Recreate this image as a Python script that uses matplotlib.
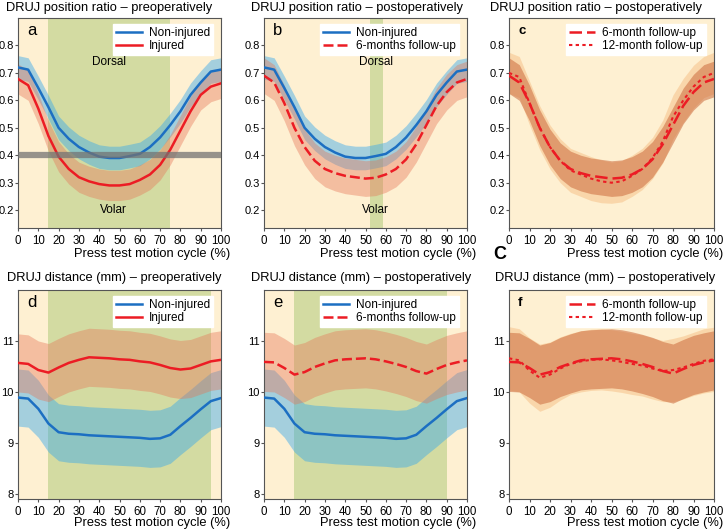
import matplotlib
matplotlib.use("Agg")
import matplotlib.pyplot as plt
from matplotlib.lines import Line2D
import numpy as np

plt.rcParams['font.family'] = ['Liberation Sans', 'DejaVu Sans']

x = [0, 5, 10, 15, 20, 25, 30, 35, 40, 45, 50, 55, 60, 65, 70, 75, 80, 85, 90, 95, 100]

# Position ratio
ratio_noninjured = [0.72, 0.712, 0.645, 0.575, 0.50, 0.46, 0.43, 0.41, 0.395, 0.39, 0.39, 0.397, 0.405, 0.43, 0.465, 0.51, 0.56, 0.62, 0.665, 0.705, 0.712]
ratio_noninjured_sd = [0.043] * 21
ratio_injured = [0.678, 0.655, 0.57, 0.47, 0.395, 0.35, 0.32, 0.305, 0.295, 0.29, 0.29, 0.295, 0.31, 0.33, 0.365, 0.42, 0.49, 0.56, 0.62, 0.65, 0.662]
ratio_injured_sd = [0.055] * 21
ratio_6m = [0.69, 0.665, 0.59, 0.50, 0.43, 0.38, 0.35, 0.335, 0.325, 0.32, 0.315, 0.318, 0.33, 0.35, 0.385, 0.44, 0.51, 0.58, 0.63, 0.665, 0.678]
ratio_6m_sd = [0.065] * 21
ratio_12m = [0.70, 0.685, 0.59, 0.50, 0.43, 0.38, 0.345, 0.33, 0.315, 0.305, 0.30, 0.305, 0.325, 0.35, 0.39, 0.45, 0.54, 0.60, 0.65, 0.685, 0.70]
ratio_12m_sd = [0.075, 0.075, 0.08, 0.08, 0.08, 0.08, 0.08, 0.08, 0.08, 0.078, 0.075, 0.075, 0.075, 0.075, 0.075, 0.078, 0.08, 0.08, 0.078, 0.075, 0.075]

# Distance (mm)
dist_noninjured = [9.89, 9.87, 9.67, 9.38, 9.21, 9.18, 9.17, 9.15, 9.14, 9.13, 9.12, 9.11, 9.10, 9.08, 9.09, 9.16, 9.33, 9.49, 9.66, 9.82, 9.88]
dist_noninjured_sd = [0.56] * 21
dist_injured = [10.57, 10.55, 10.43, 10.38, 10.48, 10.57, 10.63, 10.68, 10.67, 10.66, 10.64, 10.63, 10.60, 10.58, 10.53, 10.47, 10.44, 10.46, 10.53, 10.60, 10.63]
dist_injured_sd = [0.57] * 21
dist_6m = [10.59, 10.58, 10.47, 10.34, 10.39, 10.49, 10.56, 10.62, 10.64, 10.65, 10.66, 10.64, 10.60, 10.55, 10.49, 10.41, 10.36, 10.45, 10.53, 10.58, 10.62]
dist_6m_sd = [0.58] * 21
dist_12m = [10.66, 10.62, 10.42, 10.28, 10.34, 10.46, 10.55, 10.60, 10.63, 10.64, 10.62, 10.59, 10.55, 10.52, 10.46, 10.41, 10.43, 10.48, 10.55, 10.61, 10.64]
dist_12m_sd = [0.62, 0.62, 0.64, 0.66, 0.64, 0.62, 0.60, 0.60, 0.60, 0.60, 0.60, 0.60, 0.60, 0.60, 0.60, 0.60, 0.62, 0.62, 0.62, 0.63, 0.63]

titles = ["DRUJ position ratio \u2013 preoperatively", "DRUJ position ratio \u2013 postoperatively",
          "DRUJ position ratio \u2013 postoperatively", "DRUJ distance (mm) \u2013 preoperatively",
          "DRUJ distance (mm) \u2013 postoperatively", "DRUJ distance (mm) \u2013 postoperatively"]
letters = ["a", "b", "c", "d", "e", "f"]
green_spans = [(15, 75), (52, 58.5), None, (15, 95), (15, 90), None]
xlabel = "Press test motion cycle (%)"

PEACH = "#fef0d2"
GREEN = "#d3dba2"
BLUE = "#1c6fc2"
RED = "#ec1c24"
BLUE_BAND = (0.22, 0.66, 0.92)
RED_BAND = (0.90, 0.46, 0.34)
SPINE = "#555555"

W, H = 723, 532
fig = plt.figure(figsize=(W / 100, H / 100), dpi=100)

# pixel boxes: left, right, top, bottom
lefts = [18, 264, 509]
rights = [221, 467, 714]
tops = [18, 290]
bottoms = [228, 499]
title_x = [[6, 251, 490], [7, 251, 495]]
title_y = [8, 278]
xlab_y = [254, 523]

axes = []
for r in range(2):
    for c in range(3):
        l, rr = lefts[c], rights[c]
        t, b = tops[r], bottoms[r]
        ax = fig.add_axes([l / W, 1 - b / H, (rr - l) / W, (b - t) / H])
        axes.append(ax)

def band(ax, xs, m, s, color, alpha, z=2):
    m = np.asarray(m); s = np.asarray(s)
    ax.fill_between(xs, m - s, m + s, color=color, alpha=alpha, lw=0, zorder=z)

leg_kw = dict(loc='upper right', fontsize=8.5, frameon=True, fancybox=False,
              framealpha=1, edgecolor='white', handlelength=2.2, borderpad=0.25,
              labelspacing=0.05, handletextpad=0.6, borderaxespad=0.0,
              bbox_to_anchor=(0.96, 0.97))

for i, ax in enumerate(axes):
    r, c = divmod(i, 3)
    ax.set_facecolor(PEACH)
    ax.set_xlim(0, 100)
    if r == 0:
        ax.set_ylim(0.135, 0.9)
        ax.set_yticks([0.2, 0.3, 0.4, 0.5, 0.6, 0.7, 0.8])
        ax.set_yticklabels(["0.2", "0.3", "0.4", "0.5", "0.6", "0.7", "0.8"])
    else:
        ax.set_ylim(7.9, 12.0)
        ax.set_yticks([8, 9, 10, 11])
    ax.set_xticks(range(0, 101, 10))
    ax.tick_params(axis='y', labelsize=8, length=2, width=0.8, color=SPINE, pad=1)
    ax.tick_params(axis='x', labelsize=8.3, length=2.5, width=0.8, color=SPINE, pad=2.5)
    for sp in ax.spines.values():
        sp.set_color(SPINE)
        sp.set_linewidth(0.8)
    if green_spans[i] is not None:
        ax.axvspan(*green_spans[i], color=GREEN, lw=0, zorder=0.5)
    ax.set_xlabel(xlabel, fontsize=9.3, ha='right', va='center')
    ax.xaxis.set_label_coords(1 + 9 / (rights[c] - lefts[c]),
                              -(xlab_y[r] - bottoms[r]) / (bottoms[r] - tops[r]))
    fig.text(title_x[r][c] / W, 1 - title_y[r] / H, titles[i], fontsize=9.3,
             ha='left', va='center')
    bold = c == 2
    ax.text(0.045, 0.94, letters[i], transform=ax.transAxes,
            fontsize=12 if not bold else 9.5, fontweight='bold' if bold else 'normal',
            ha='left', va='center', zorder=6)

solid_kw = dict(lw=1.8, zorder=4)
dash_b = (0, (4, 1.6))
dash_long = (0, (5, 2))
dash_short = (0, (1.6, 1.6))

# a
ax = axes[0]
band(ax, x, ratio_noninjured, ratio_noninjured_sd, BLUE_BAND, 0.45)
band(ax, x, ratio_injured, ratio_injured_sd, RED_BAND, 0.4)
ax.plot(x, ratio_noninjured, color=BLUE, **solid_kw)
ax.plot(x, ratio_injured, color=RED, **solid_kw)
ax.axhline(0.4, color=(0.45, 0.45, 0.45), alpha=0.75, lw=4.5, zorder=5)
ax.text(45, 0.74, "Dorsal", fontsize=8.5, ha='center', va='center', zorder=6)
ax.text(47, 0.2, "Volar", fontsize=8.5, ha='center', va='center', zorder=6)
leg_a = [Line2D([], [], color=BLUE, lw=1.8), Line2D([], [], color=RED, lw=1.8)]
ax.legend(leg_a, ["Non-injured", "Injured"], **leg_kw)

# b
ax = axes[1]
band(ax, x, ratio_noninjured, ratio_noninjured_sd, BLUE_BAND, 0.45)
band(ax, x, ratio_6m, ratio_6m_sd, RED_BAND, 0.4)
ax.plot(x, ratio_noninjured, color=BLUE, **solid_kw)
ax.plot(x, ratio_6m, color=RED, ls=dash_b, **solid_kw)
ax.text(55, 0.74, "Dorsal", fontsize=8.5, ha='center', va='center', zorder=6)
ax.text(55, 0.2, "Volar", fontsize=8.5, ha='center', va='center', zorder=6)
leg_b = [Line2D([], [], color=BLUE, lw=1.8), Line2D([], [], color=RED, lw=1.8, ls=dash_b)]
ax.legend(leg_b, ["Non-injured", "6-months follow-up"], **leg_kw)

# c
ax = axes[2]
band(ax, x, ratio_12m, ratio_12m_sd, (0.96, 0.72, 0.48), 0.45)
band(ax, x, ratio_6m, ratio_6m_sd, (0.80, 0.42, 0.24), 0.55)
ax.plot(x, ratio_6m, color=RED, ls=dash_long, **solid_kw)
ax.plot(x, ratio_12m, color=RED, ls=dash_short, lw=1.5, zorder=4)
leg_c = [Line2D([], [], color=RED, lw=1.8, ls=dash_long), Line2D([], [], color=RED, lw=1.5, ls=dash_short)]
ax.legend(leg_c, ["6-month follow-up", "12-month follow-up"], **leg_kw)
fig.text(493 / W, 1 - 254 / H, "C", fontsize=13, fontweight='bold', ha='left', va='center')

# d
ax = axes[3]
band(ax, x, dist_noninjured, dist_noninjured_sd, BLUE_BAND, 0.45)
band(ax, x, dist_injured, dist_injured_sd, RED_BAND, 0.4)
ax.plot(x, dist_noninjured, color=BLUE, **solid_kw)
ax.plot(x, dist_injured, color=RED, **solid_kw)
ax.legend(leg_a, ["Non-injured", "Injured"], **leg_kw)

# e
ax = axes[4]
band(ax, x, dist_noninjured, dist_noninjured_sd, BLUE_BAND, 0.45)
band(ax, x, dist_6m, dist_6m_sd, RED_BAND, 0.4)
ax.plot(x, dist_noninjured, color=BLUE, **solid_kw)
ax.plot(x, dist_6m, color=RED, ls=dash_b, **solid_kw)
ax.legend(leg_b, ["Non-injured", "6-months follow-up"], **leg_kw)

# f
ax = axes[5]
band(ax, x, dist_12m, dist_12m_sd, (0.96, 0.72, 0.48), 0.45)
band(ax, x, dist_6m, dist_6m_sd, (0.80, 0.42, 0.24), 0.55)
ax.plot(x, dist_6m, color=RED, ls=dash_long, **solid_kw)
ax.plot(x, dist_12m, color=RED, ls=dash_short, lw=1.5, zorder=4)
ax.legend(leg_c, ["6-month follow-up", "12-month follow-up"], **leg_kw)

fig.savefig("out.png", dpi=100, facecolor='white')
